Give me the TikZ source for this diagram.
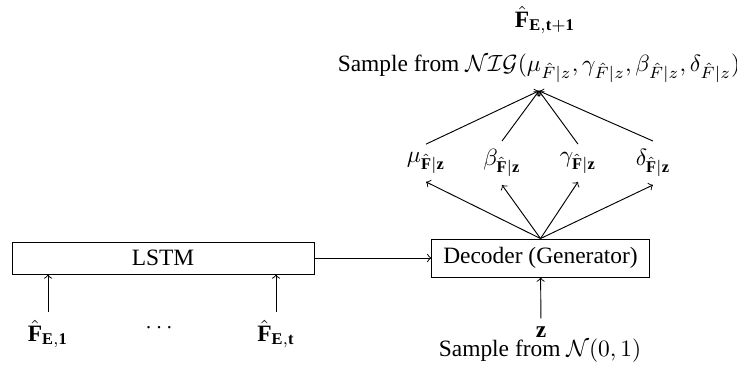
\documentclass[tikz,border=0pt]{standalone}
\usepackage{amsmath,amssymb}
\usepackage{fontspec}
\setmainfont{Liberation Serif}

\begin{document}
\begin{tikzpicture}[x=0.15mm, y=-0.15mm,
  block/.style={rectangle, draw},
  flow/.style={->}]
\useasboundingbox (0,0) rectangle (737,368);

% Encoder and decoder
\node[block, minimum width=45.3mm, minimum height=4.8mm] (lstm) at (163,258) {LSTM};
\node[block, minimum width=32.6mm, minimum height=5.7mm] (decoder) at (540.5,258) {Decoder (Generator)};

% Inputs
\node (in1) at (48,334) {$\hat{\mathbf{F}}_{\mathbf{E,1}}$};
\node (dots) at (161,328) {$\cdots$};
\node (int) at (276,334) {$\hat{\mathbf{F}}_{\mathbf{E,t}}$};
\node (z) at (541,332) {$\mathbf{z}$};
\node (prior) at (540,351) {Sample from $\mathcal{N}(0,1)$};

% NIG parameters
\node (mu) at (426,163) {$\mu_{\hat{\mathbf{F}}|\mathbf{z}}$};
\node (beta) at (502,163) {$\beta_{\hat{\mathbf{F}}|\mathbf{z}}$};
\node (gamma) at (578,163) {$\gamma_{\hat{\mathbf{F}}|\mathbf{z}}$};
\node (delta) at (653,163) {$\delta_{\hat{\mathbf{F}}|\mathbf{z}}$};

% Output
\node (nig) at (539,68) {Sample from $\mathcal{NIG}(\mu_{\hat{F}|z}, \gamma_{\hat{F}|z}, \beta_{\hat{F}|z}, \delta_{\hat{F}|z})$};
\node (out) at (545,20) {$\hat{\mathbf{F}}_{\mathbf{E,t+1}}$};

% Arrows
\draw[flow] (in1) -- (in1 |- lstm.south);
\draw[flow] (int) -- (int |- lstm.south);
\draw[flow] (lstm) -- (decoder);
\draw[flow] (z) -- (decoder);
\draw[flow] (decoder.north) -- (mu.south);
\draw[flow] (decoder.north) -- (beta.south);
\draw[flow] (decoder.north) -- (gamma.south);
\draw[flow] (decoder.north) -- (delta.south);
\draw[flow] (mu.north) -- (nig.south);
\draw[flow] (beta.north) -- (nig.south);
\draw[flow] (gamma.north) -- (nig.south);
\draw[flow] (delta.north) -- (nig.south);
\end{tikzpicture}
\end{document}
